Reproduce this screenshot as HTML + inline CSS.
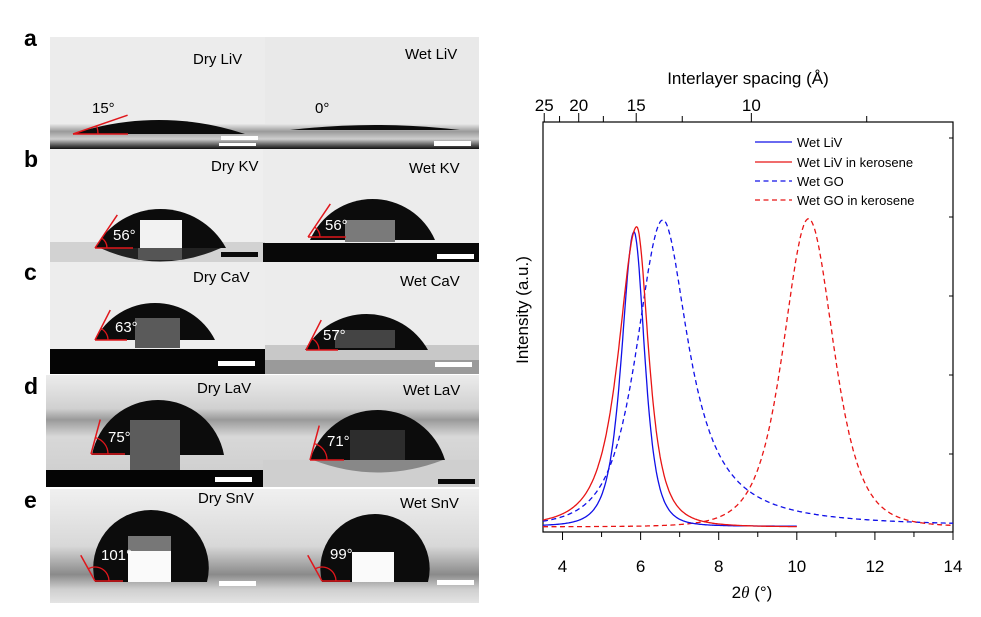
<!DOCTYPE html>
<html><head><meta charset="utf-8"><style>
body{margin:0;background:#fff;}
svg text{font-family:"Liberation Sans",Arial,sans-serif;}
</style></head><body>
<svg id="s" width="981" height="612" viewBox="0 0 981 612" xmlns="http://www.w3.org/2000/svg">
<defs>
<linearGradient id="subA" x1="0" y1="0" x2="0" y2="1">
<stop offset="0" stop-color="#e8e8e8"/><stop offset="0.3" stop-color="#9a9a9a"/><stop offset="0.6" stop-color="#cfcfcf"/><stop offset="0.85" stop-color="#555"/><stop offset="1" stop-color="#111"/></linearGradient>
<linearGradient id="bgE" x1="0" y1="0" x2="0" y2="1">
<stop offset="0" stop-color="#f0f0f0"/><stop offset="0.5" stop-color="#d8d8d8"/><stop offset="0.75" stop-color="#8a8a8a"/><stop offset="0.88" stop-color="#cfcfcf"/><stop offset="1" stop-color="#e4e4e4"/></linearGradient>
<linearGradient id="bgD" x1="0" y1="0" x2="0" y2="1">
<stop offset="0" stop-color="#ececec"/><stop offset="0.3" stop-color="#d0d0d0"/><stop offset="0.4" stop-color="#9a9a9a"/><stop offset="0.55" stop-color="#d8d8d8"/><stop offset="1" stop-color="#cccccc"/></linearGradient>
</defs>
<g font-weight="bold" font-size="23" fill="#000">
<text x="24" y="46">a</text><text x="24" y="167">b</text><text x="24" y="280">c</text><text x="24" y="394">d</text><text x="24" y="508">e</text>
</g>
<g id="photos"></g>
<g id="chart"></g>
</svg>
<script>
var NS="http://www.w3.org/2000/svg";
function el(p,tag,a,txt){var e=document.createElementNS(NS,tag);for(var k in a)e.setAttribute(k,a[k]);if(txt!==undefined)e.textContent=txt;p.appendChild(e);return e;}
var P=document.getElementById('photos');
function drop(x1,x2,t,b,fill){var c=(x2-x1)/2,h=b-t,r=(c*c+h*h)/(2*h),lg=h>r?1:0;
 el(P,'path',{d:'M'+x1+','+b+' A'+r+','+r+' 0 '+lg+' 1 '+x2+','+b+' Z',fill:fill||'#0c0c0c'});}
function rect(x,y,w,h,f){el(P,'rect',{x:x,y:y,width:w,height:h,fill:f});}
function txt(x,y,s,f,sz){el(P,'text',{x:x,y:y,'font-size':sz||15,fill:f||'#000'},s);}
function angle(x,y,len,deg,arc){var a=deg*Math.PI/180;
 el(P,'line',{x1:x,y1:y,x2:x+len,y2:y,stroke:'#e0161b','stroke-width':1.5});
 el(P,'line',{x1:x,y1:y,x2:x+len*1.05*Math.cos(a),y2:y-len*1.05*Math.sin(a),stroke:'#e0161b','stroke-width':1.5});
 el(P,'path',{d:'M'+(x+arc)+','+y+' A'+arc+','+arc+' 0 0 0 '+(x+arc*Math.cos(a))+','+(y-arc*Math.sin(a)),fill:'none',stroke:'#e0161b','stroke-width':1.3});}
// row a
rect(50,37,215,112,'#ececec');rect(265,37,214,112,'#e9e9e9');
rect(50,124,429,25,'url(#subA)');
drop(73,245,120,134);drop(290,460,125,130);
rect(221,136,37,4,'#fff');rect(219,143,37,3,'#fff');rect(434,141,37,5,'#fff');
txt(193,64,'Dry LiV');txt(405,59,'Wet LiV');txt(92,113,'15°');txt(315,113,'0°');
angle(73,134,55,19,25);
// row b
rect(50,149,215,113,'#efefef');rect(263,149,216,113,'#ececec');
rect(50,242,215,20,'#d2d2d2');rect(263,243,216,19,'#080808');
drop(95,226,209,248);el(P,'path',{d:'M100,248 Q160,275 221,248 Z',fill:'#222'});
rect(140,220,42,28,'#f2f2f2');rect(138,248,44,12,'#555');
drop(310,435,199,240);rect(345,220,50,22,'#7a7a7a');
rect(221,252,37,5,'#0a0a0a');rect(437,254,37,5,'#fff');
txt(211,171,'Dry KV');txt(409,173,'Wet KV');txt(113,240,'56°','#fff');txt(325,230,'56°','#fff');
angle(95,248,38,56,12);angle(308,237,38,56,12);
// row c
rect(50,262,215,112,'#ededed');rect(265,262,214,112,'#ececec');
rect(50,349,215,25,'#050505');rect(265,345,214,29,'#c8c8c8');rect(265,360,214,14,'#9a9a9a');
drop(95,215,303,340);rect(135,318,45,30,'#5a5a5a');
drop(305,428,314,350);rect(335,330,60,18,'#444');
rect(218,361,37,5,'#fff');rect(435,362,37,5,'#fff');
txt(193,282,'Dry CaV');txt(400,286,'Wet CaV');txt(115,332,'63°','#fff');txt(323,340,'57°','#fff');
angle(95,340,32,63,13);angle(306,350,32,63,13);
// row d
rect(46,375,219,112,'url(#bgD)');rect(263,375,216,112,'url(#bgD)');
rect(46,470,219,17,'#050505');rect(263,460,216,27,'#cfcfcf');
drop(92,224,400,455);rect(130,420,50,50,'#5c5c5c');
drop(310,445,410,460);rect(350,430,55,30,'#2d2d2d');el(P,'path',{d:'M313,460 Q378,485 443,460 Z',fill:'#888'});
rect(215,477,37,5,'#fff');rect(438,479,37,5,'#0a0a0a');
txt(197,393,'Dry LaV');txt(403,395,'Wet LaV');txt(108,442,'75°','#fff');txt(327,446,'71°','#fff');
angle(91,454,34,75,17);angle(310,460,34,75,17);
// row e
rect(50,489,215,114,'url(#bgE)');rect(265,489,214,114,'url(#bgE)');
drop(95,207,510,582);rect(128,536,43,15,'#777');rect(128,551,43,31,'#fafafa');
drop(322,428,514,582);rect(352,552,42,30,'#fafafa');
rect(219,581,37,5,'#fff');rect(437,580,37,5,'#fff');
txt(198,503,'Dry SnV');txt(400,508,'Wet SnV');txt(101,560,'101°','#fff');txt(330,559,'99°','#fff');
angle(95,581,28,119,14);angle(322,581,28,119,14);

// chart
var C=document.getElementById('chart');
var L=543,R=953,T=122,B=532;
function X(t){return L+(t-3.5)/10.5*(R-L);}
var base=528,top1=220;function Y(v){return base-v*(base-top1);}
el(C,'rect',{x:L,y:T,width:R-L,height:B-T,fill:'none',stroke:'#000','stroke-width':1.2});
for(var t=4;t<=14;t++){var maj=t%2==0;el(C,'line',{x1:X(t),y1:B,x2:X(t),y2:B+(maj?8:5),stroke:'#000','stroke-width':1});
 if(maj)el(C,'text',{x:X(t),y:B+40,'font-size':17,'text-anchor':'middle'},t);}
function tt(d){return 2*Math.asin(1.5406/(2*d))*180/Math.PI;}
[25,22.5,20,17.5,15,12.5,10,7.5].forEach(function(d){var x=X(tt(d));el(C,'line',{x1:x,y1:T,x2:x,y2:T-(d%5==0?9:6),stroke:'#000','stroke-width':1});
 if(d%5==0)el(C,'text',{x:x,y:T-11,'font-size':17,'text-anchor':'middle'},d);});
el(C,'text',{x:748,y:84,'font-size':17,'text-anchor':'middle'},'Interlayer spacing (Å)');
for(var i=0;i<5;i++){var y=138+i*79;el(C,'line',{x1:R,y1:y,x2:R-4,y2:y,stroke:'#000'});}
el(C,'text',{x:0,y:0,'font-size':17,'text-anchor':'middle',transform:'translate(528,310) rotate(-90)'},'Intensity (a.u.)');
var lab=el(C,'text',{x:752,y:598,'font-size':17,'text-anchor':'middle'});
lab.innerHTML='2<tspan font-style="italic" font-family="Liberation Serif">θ</tspan> (°)';
function p7(t,c,gl,gr,ml,mr){var g=t<c?gl:gr,m=t<c?ml:mr,d=(t-c)/g,k=Math.pow(2,1/m)-1;return 1/Math.pow(1+k*d*d,m);}
function curve(f,t0,t1,col,dash){var d='';for(var t=t0;t<=t1+1e-9;t+=0.02){d+=(d?'L':'M')+X(t).toFixed(1)+','+Y(f(t)).toFixed(1);}
 var a={d:d,fill:'none',stroke:col,'stroke-width':1.3};if(dash)a['stroke-dasharray']='5,3.5';el(C,'path',a);}
curve(function(t){return 0.004+0.996*p7(t,6.57,0.78,0.8,2,1);},3.5,14,'#1010e8',true);
curve(function(t){return 0.004+p7(t,10.3,0.75,0.75,2.5,2.5);},3.5,14,'#e81414',true);
curve(function(t){return 0.006+0.955*p7(t,5.83,0.37,0.32,2,2);},3.5,10,'#1010e8',false);
curve(function(t){return 0.003+0.975*p7(t,5.9,0.55,0.36,1.5,1.5);},3.5,10,'#e81414',false);
var ly=[142,162,181,200],lc=['#1010e8','#e81414','#1010e8','#e81414'],ln=['Wet LiV','Wet LiV in kerosene','Wet GO','Wet GO in kerosene'];
for(var i=0;i<4;i++){var a={x1:755,y1:ly[i],x2:792,y2:ly[i],stroke:lc[i],'stroke-width':1.3};if(i>1)a['stroke-dasharray']='5,3.5';el(C,'line',a);
 el(C,'text',{x:797,y:ly[i]+5,'font-size':13},ln[i]);}
</script>
</body></html>
